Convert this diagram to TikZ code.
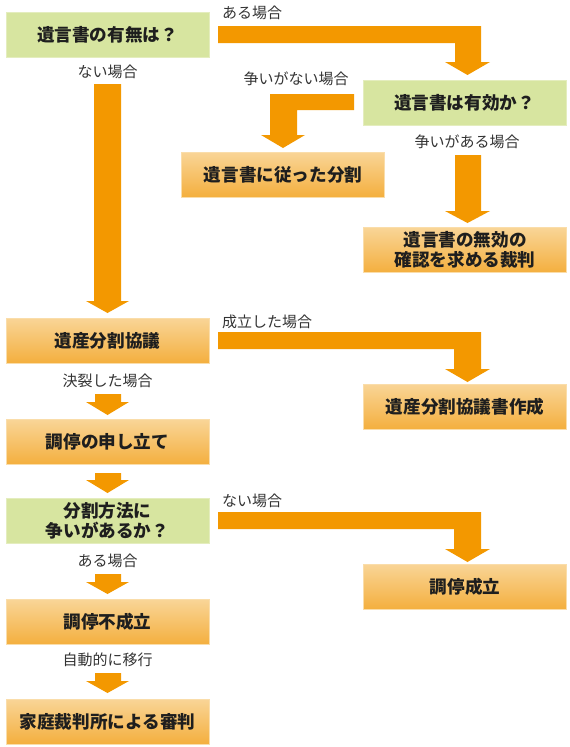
\documentclass[tikz,border=0pt]{standalone}
\usepackage{fontspec}
\setmainfont{Noto Sans CJK JP}
\definecolor{boxgreen}{HTML}{D7E5A0}
\definecolor{boxgreenedge}{HTML}{E4EDBE}
\definecolor{otop}{HTML}{F9D597}
\definecolor{obot}{HTML}{F4AF3E}
\definecolor{oedge}{HTML}{FADDAA}
\definecolor{arroworange}{HTML}{F39800}
\definecolor{boxtext}{HTML}{1E1E1E}
\definecolor{labeltext}{HTML}{333333}
\tikzset{
  basebox/.style={rectangle, minimum width=203pt, minimum height=45pt, inner sep=0pt,
    align=center, text=boxtext, font=\fontsize{17.6}{19.8}\selectfont\bfseries},
  greenbox/.style={basebox, fill=boxgreen, draw=boxgreenedge, line width=0.8pt},
  orangebox/.style={basebox, top color=otop, bottom color=obot, draw=oedge, line width=0.8pt},
  lbl/.style={inner sep=0pt, text=labeltext, font=\fontsize{15}{16}\selectfont},
  blockarrow/.style={fill=arroworange, draw=none}
}
\begin{document}
\begin{tikzpicture}[x=1pt,y=-1pt]
\useasboundingbox (0,0) rectangle (570,747);
% boxes
\node[greenbox]  (A) at (107.5,34.5) {遺言書の有無は？};
\node[greenbox]  (B) at (464.5,102.5) {遺言書は有効か？};
\node[orangebox] (C) at (283,174.5) {遺言書に従った分割};
\node[orangebox] (D) at (465,250) {遺言書の無効の\\確認を求める裁判};
\node[orangebox] (E) at (107.5,340.5) {遺産分割協議};
\node[orangebox] (F) at (465,406.5) {遺産分割協議書作成};
\node[orangebox] (G) at (107.5,442) {調停の申し立て};
\node[greenbox]  (H) at (107.5,520.5) {分割方法に\\争いがあるか？};
\node[orangebox] (I) at (465,586.5) {調停成立};
\node[orangebox] (J) at (107.5,622) {調停不成立};
\node[orangebox] (K) at (107.5,721.5) {家庭裁判所による審判};
% labels
\node[lbl, anchor=west] (l1) at (222,13) {ある場合};
\node[lbl] (l2) at (107.5,72) {ない場合};
\node[lbl] (l3) at (296,79) {争いがない場合};
\node[lbl] (l4) at (467,142) {争いがある場合};
\node[lbl, anchor=west] (l5) at (222,322) {成立した場合};
\node[lbl] (l6) at (107.5,381) {決裂した場合};
\node[lbl, anchor=west] (l7) at (222,501) {ない場合};
\node[lbl] (l8) at (107.5,561) {ある場合};
\node[lbl] (l9) at (107.5,660) {自動的に移行};
% block arrows
% A -> B
\fill[blockarrow] (218,26) -- (481,26) -- (481,62) -- (490,62) -- (467.5,75) -- (445,62) -- (455,62) -- (455,43) -- (218,43) -- cycle;
% B -> C
\fill[blockarrow] (354,94) -- (354,110) -- (297,110) -- (297,135) -- (305,135) -- (283,148) -- (261,135) -- (270,135) -- (270,94) -- cycle;
% B -> D
\fill[blockarrow] (455,155) -- (481,155) -- (481,211) -- (490,211) -- (467.5,223) -- (445,211) -- (455,211) -- cycle;
% A -> E
\fill[blockarrow] (94,84) -- (121,84) -- (121,301) -- (129,301) -- (107.5,313) -- (86,301) -- (94,301) -- cycle;
% E -> F
\fill[blockarrow] (218,332) -- (481,332) -- (481,369) -- (490,369) -- (467.5,382) -- (445,369) -- (454,369) -- (454,349) -- (218,349) -- cycle;
% E -> G
\fill[blockarrow] (95,394) -- (121,394) -- (121,402) -- (129,402) -- (107.5,415) -- (86,402) -- (95,402) -- cycle;
% G -> H
\fill[blockarrow] (95,473) -- (121,473) -- (121,480) -- (129,480) -- (107.5,493) -- (86,480) -- (95,480) -- cycle;
% H -> I
\fill[blockarrow] (218,512) -- (481,512) -- (481,549) -- (490,549) -- (467.5,562) -- (445,549) -- (454,549) -- (454,529) -- (218,529) -- cycle;
% H -> J
\fill[blockarrow] (95,574) -- (121,574) -- (121,582) -- (129,582) -- (107.5,594) -- (86,582) -- (95,582) -- cycle;
% J -> K
\fill[blockarrow] (95,673) -- (121,673) -- (121,681) -- (129,681) -- (107.5,693) -- (86,681) -- (95,681) -- cycle;
\end{tikzpicture}
\end{document}
